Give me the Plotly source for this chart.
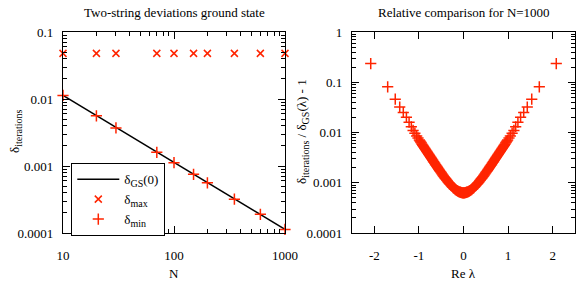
import plotly.graph_objects as go

# ---------------- data ----------------
N_vals = [10, 20, 30, 70, 100, 150, 200, 350, 600, 1000]
delta_max = [0.048, 0.048, 0.048, 0.048, 0.048, 0.048, 0.048, 0.048, 0.048, 0.048]
delta_min = [0.0113, 0.0056, 0.0037, 0.0016, 0.00112, 0.00075, 0.00056, 0.00032, 0.00019, 0.000113]
gs_N = [10, 1000]
gs_delta = [0.0113, 0.000113]

# roots (Re lambda) and relative deviation, N = 1000 -- part A
lam = [-2.08, -1.70, -1.53, -1.43, -1.35, -1.28, -1.22, -1.17, -1.13, -1.09, -1.05, -1.02, -0.99,
       -0.96, -0.93, -0.90, -0.87, -0.84, -0.81, -0.78, -0.75, -0.72, -0.69, -0.66, -0.63, -0.60,
       -0.57, -0.54, -0.51, -0.48, -0.45, -0.42, -0.39, -0.36, -0.33, -0.30, -0.27, -0.24, -0.21,
       -0.18, -0.15, -0.12, -0.09, -0.06, -0.03, 0.00,
       0.03, 0.06, 0.09, 0.12, 0.15, 0.18, 0.21, 0.24, 0.27, 0.30, 0.33, 0.36, 0.39, 0.42, 0.45,
       0.48, 0.51, 0.54, 0.57, 0.60, 0.63, 0.66, 0.69, 0.72, 0.75, 0.78, 0.81, 0.84, 0.87, 0.90,
       0.93, 0.96, 0.99, 1.02, 1.05, 1.09, 1.13, 1.17, 1.22, 1.28, 1.35, 1.43, 1.53, 1.70, 2.08]
rel_dev = [0.235, 0.081, 0.046, 0.032, 0.025, 0.020, 0.016, 0.013, 0.01098, 0.00968, 0.00854,
           0.00778, 0.00708, 0.00644, 0.00587, 0.00534, 0.00487, 0.00443, 0.00404, 0.00368,
           0.00335, 0.00306, 0.00279, 0.00255, 0.00232, 0.00212, 0.00194, 0.00178, 0.00163,
           0.00149, 0.00137, 0.00126, 0.00117, 0.00108, 0.00100, 0.000931, 0.000871, 0.000818,
           0.000772, 0.000733, 0.000701, 0.000675, 0.000655, 0.000641, 0.000633, 0.000630,
           0.000633, 0.000641, 0.000655, 0.000675, 0.000701, 0.000733, 0.000772, 0.000818,
           0.000871, 0.000931, 0.00100, 0.00108, 0.00117, 0.00126, 0.00137, 0.00149, 0.00163,
           0.00178, 0.00194, 0.00212, 0.00232, 0.00255, 0.00279, 0.00306, 0.00335, 0.00368,
           0.00404, 0.00443, 0.00487, 0.00534, 0.00587, 0.00644, 0.00708, 0.00778, 0.00854,
           0.00968, 0.01098, 0.013, 0.016, 0.020, 0.025, 0.032, 0.046, 0.081, 0.235]

# part B (the roots lying between those of part A in the dense region)
lam_b = [-0.975, -0.945, -0.915, -0.885, -0.855, -0.825, -0.795, -0.765, -0.735, -0.705,
         -0.675, -0.645, -0.615, -0.585, -0.555, -0.525, -0.495, -0.465, -0.435, -0.405,
         -0.375, -0.345, -0.315, -0.285, -0.255, -0.225, -0.195, -0.165, -0.135, -0.105,
         -0.075, -0.045, -0.015,
         0.015, 0.045, 0.075, 0.105, 0.135, 0.165, 0.195, 0.225, 0.255, 0.285, 0.315, 0.345,
         0.375, 0.405, 0.435, 0.465, 0.495, 0.525, 0.555, 0.585, 0.615, 0.645, 0.675, 0.705,
         0.735, 0.765, 0.795, 0.825, 0.855, 0.885, 0.915, 0.945, 0.975]
rel_dev_b = [0.00675, 0.00615, 0.00560, 0.00510, 0.00464, 0.00423, 0.00385, 0.00351, 0.00320,
             0.00292, 0.00266, 0.00243, 0.00222, 0.00203, 0.00186, 0.00170, 0.00156, 0.00143,
             0.00132, 0.00121, 0.00112, 0.00104, 0.000965, 0.000900, 0.000843, 0.000794,
             0.000752, 0.000717, 0.000687, 0.000665, 0.000648, 0.000636, 0.000631,
             0.000631, 0.000636, 0.000648, 0.000665, 0.000687, 0.000717, 0.000752, 0.000794,
             0.000843, 0.000900, 0.000965, 0.00104, 0.00112, 0.00121, 0.00132, 0.00143,
             0.00156, 0.00170, 0.00186, 0.00203, 0.00222, 0.00243, 0.00266, 0.00292, 0.00320,
             0.00351, 0.00385, 0.00423, 0.00464, 0.00510, 0.00560, 0.00615, 0.00675]

left_xticks = [10, 100, 1000]
left_xtick_text = ["10", "100", "1000"]
left_yticks = [0.0001, 0.001, 0.01, 0.1]
left_ytick_text = ["0.0001", "0.001", "0.01", "0.1"]
right_xticks = [-2, -1, 0, 1, 2]
right_xtick_text = ["-2", "-1", "0", "1", "2"]
right_yticks = [0.0001, 0.001, 0.01, 0.1, 1]
right_ytick_text = ["0.0001", "0.001", "0.01", "0.1", "1"]

# ---------------- style ----------------
RED = "rgb(255,36,0)"
FONT = "Liberation Serif, Times New Roman, Times, serif"
W, H = 578, 286

def sub(s):
    return "<sub><span style='font-size:10px'>" + s + "</span></sub>"

def minor_log(lo, hi):
    vals = []
    for e in range(lo, hi):
        for m in range(2, 10):
            vals.append(m * 10 ** e)
    return vals

fig = go.Figure()

fig.add_trace(go.Scatter(x=gs_N, y=gs_delta, mode="lines", line=dict(color="black", width=1.5),
                         name="δ" + sub("GS") + "(0)", xaxis="x", yaxis="y"))
fig.add_trace(go.Scatter(x=N_vals, y=delta_max, mode="markers",
                         marker=dict(symbol="x-thin", size=7, line=dict(color=RED, width=1.5)),
                         name="δ" + sub("max"), xaxis="x", yaxis="y", cliponaxis=False))
fig.add_trace(go.Scatter(x=N_vals, y=delta_min, mode="markers",
                         marker=dict(symbol="cross-thin", size=8, line=dict(color=RED, width=1.5)),
                         name="δ" + sub("min"), xaxis="x", yaxis="y", cliponaxis=False))
fig.add_trace(go.Scatter(x=lam + lam_b, y=rel_dev + rel_dev_b, mode="markers",
                         marker=dict(symbol="cross-thin", size=8, line=dict(color=RED, width=1.5)),
                         showlegend=False, xaxis="x2", yaxis="y2", cliponaxis=False))

py0 = (H - 233) / H
py1 = (H - 32) / H
lx0, lx1 = 63 / W, 285 / W
rx0, rx1 = 352 / W, 575 / W

axis_common = dict(showline=True, linecolor="black", linewidth=1.3, mirror="allticks",
                   ticks="inside", ticklen=7, tickwidth=1.2, tickcolor="black",
                   showgrid=False, zeroline=False, automargin=False,
                   tickfont=dict(family=FONT, size=13, color="black"))

fig.update_layout(
    width=W, height=H,
    margin=dict(l=0, r=0, t=0, b=0),
    paper_bgcolor="white", plot_bgcolor="white",
    font=dict(family=FONT, size=13, color="black"),
    xaxis=dict(domain=[lx0, lx1], type="log", range=[1, 3], anchor="y",
               tickmode="array", tickvals=left_xticks, ticktext=left_xtick_text,
               ticklabelstandoff=10,
               minor=dict(tickvals=minor_log(1, 3), ticks="inside", ticklen=4,
                          tickwidth=1, tickcolor="black", showgrid=False),
               **axis_common),
    yaxis=dict(domain=[py0, py1], type="log", range=[-4, -1], anchor="x",
               tickmode="array", tickvals=left_yticks, ticktext=left_ytick_text,
               ticklabelstandoff=6,
               minor=dict(tickvals=minor_log(-4, -1), ticks="inside", ticklen=4,
                          tickwidth=1, tickcolor="black", showgrid=False),
               **axis_common),
    xaxis2=dict(domain=[rx0, rx1], range=[-2.5, 2.5], anchor="y2",
                tickmode="array", tickvals=right_xticks, ticktext=right_xtick_text,
                ticklabelstandoff=10,
                **axis_common),
    yaxis2=dict(domain=[py0, py1], type="log", range=[-4, 0], anchor="x2",
                tickmode="array", tickvals=right_yticks, ticktext=right_ytick_text,
                ticklabelstandoff=6,
                minor=dict(tickvals=minor_log(-4, 0), ticks="inside", ticklen=4,
                           tickwidth=1, tickcolor="black", showgrid=False),
                **axis_common),
    legend=dict(x=71 / W, y=(H - 163) / H, xanchor="left", yanchor="top",
                bordercolor="black", borderwidth=1.3, bgcolor="white",
                font=dict(family=FONT, size=13, color="black"),
                itemwidth=42, tracegroupgap=0),
    showlegend=True,
)

annots = [
    dict(text="Two-string deviations ground state", x=(lx0 + lx1) / 2, y=(H - 13) / H),
    dict(text="Relative comparison for N=1000", x=(rx0 + rx1) / 2, y=(H - 13) / H),
    dict(text="N", x=(lx0 + lx1) / 2, y=(H - 273) / H),
    dict(text="Re λ", x=(rx0 + rx1) / 2, y=(H - 273) / H),
    dict(text="δ" + sub("iterations"), x=15 / W, y=(H - 132) / H, textangle=-90),
    dict(text="δ" + sub("iterations") + " / δ" + sub("GS") + "(λ) - 1", x=302 / W,
         y=(H - 132) / H, textangle=-90),
]
for a in annots:
    fig.add_annotation(xref="paper", yref="paper", showarrow=False,
                       xanchor="center", yanchor="middle",
                       font=dict(family=FONT, size=13, color="black"), **a)

fig.write_html("out.html", config={"displayModeBar": False},
               post_script="document.body.style.margin='0';document.body.style.overflow='hidden';")
